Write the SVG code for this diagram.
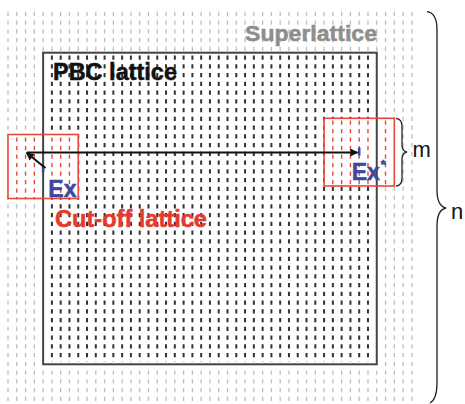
<svg xmlns="http://www.w3.org/2000/svg" width="465" height="404" viewBox="0 0 465 404">
  <style>
    .lt { stroke: #bdbdbd; stroke-width: 1.3; stroke-dasharray: 4.3 4.45; }
    .dk { stroke: #333; stroke-width: 2; stroke-dasharray: 4.3 4.45; }
    .rd { stroke: #e8463c; stroke-width: 1.4; stroke-dasharray: 4.2 4.3; }
    .box { fill: none; stroke: #e8463c; stroke-width: 1.6; }
    .pbc { fill: none; stroke: #444; stroke-width: 2; }
    .lbl { font-family: "Liberation Sans", Arial, sans-serif; font-weight: bold; stroke-width: 0.5; }
    .sym { font-family: "Liberation Sans", Arial, sans-serif; font-size: 22px; fill: #111; }
    .brace { fill: none; stroke: #222; stroke-width: 1.3; }
    .arr { stroke: #111; stroke-width: 2; marker-end: url(#head); }
    .site { stroke: #3b4aa0; stroke-width: 2.6; }
  </style>
  <defs>
    <marker id="head" viewBox="0 0 10 10" refX="9" refY="5" markerUnits="userSpaceOnUse" markerWidth="10" markerHeight="8" orient="auto">
      <path d="M0,0 L10,5 L0,10 z" fill="#111"/>
    </marker>
  </defs>
  <rect width="465" height="404" fill="#fff"/>

  <!-- superlattice columns: spacing 8.78, x0 = 8 -->
  <g id="superlattice">
    <line class="lt" x1="8" y1="11.7" x2="8" y2="401"/>
    <line class="lt" x1="16.78" y1="11.7" x2="16.78" y2="401"/>
    <line class="lt" x1="25.56" y1="11.7" x2="25.56" y2="401"/>
    <line class="lt" x1="34.34" y1="11.7" x2="34.34" y2="401"/>
    <line class="lt" x1="385.54" y1="11.7" x2="385.54" y2="401"/>
    <line class="lt" x1="394.32" y1="11.7" x2="394.32" y2="401"/>
    <line class="lt" x1="403.1" y1="11.7" x2="403.1" y2="401"/>
    <line class="lt" x1="411.88" y1="11.7" x2="411.88" y2="401"/>
    <!-- columns 4..42: parts above and below the PBC cell -->
    <g id="lt-top">
      <line class="lt" x1="43.12" y1="11.7" x2="43.12" y2="52"/>
      <line class="lt" x1="51.9" y1="11.7" x2="51.9" y2="52"/>
      <line class="lt" x1="60.68" y1="11.7" x2="60.68" y2="52"/>
      <line class="lt" x1="69.46" y1="11.7" x2="69.46" y2="52"/>
      <line class="lt" x1="78.24" y1="11.7" x2="78.24" y2="52"/>
      <line class="lt" x1="87.02" y1="11.7" x2="87.02" y2="52"/>
      <line class="lt" x1="95.8" y1="11.7" x2="95.8" y2="52"/>
      <line class="lt" x1="104.58" y1="11.7" x2="104.58" y2="52"/>
      <line class="lt" x1="113.36" y1="11.7" x2="113.36" y2="52"/>
      <line class="lt" x1="122.14" y1="11.7" x2="122.14" y2="52"/>
      <line class="lt" x1="130.92" y1="11.7" x2="130.92" y2="52"/>
      <line class="lt" x1="139.7" y1="11.7" x2="139.7" y2="52"/>
      <line class="lt" x1="148.48" y1="11.7" x2="148.48" y2="52"/>
      <line class="lt" x1="157.26" y1="11.7" x2="157.26" y2="52"/>
      <line class="lt" x1="166.04" y1="11.7" x2="166.04" y2="52"/>
      <line class="lt" x1="174.82" y1="11.7" x2="174.82" y2="52"/>
      <line class="lt" x1="183.6" y1="11.7" x2="183.6" y2="52"/>
      <line class="lt" x1="192.38" y1="11.7" x2="192.38" y2="52"/>
      <line class="lt" x1="201.16" y1="11.7" x2="201.16" y2="52"/>
      <line class="lt" x1="209.94" y1="11.7" x2="209.94" y2="52"/>
      <line class="lt" x1="218.72" y1="11.7" x2="218.72" y2="52"/>
      <line class="lt" x1="227.5" y1="11.7" x2="227.5" y2="52"/>
      <line class="lt" x1="236.28" y1="11.7" x2="236.28" y2="52"/>
      <line class="lt" x1="245.06" y1="11.7" x2="245.06" y2="52"/>
      <line class="lt" x1="253.84" y1="11.7" x2="253.84" y2="52"/>
      <line class="lt" x1="262.62" y1="11.7" x2="262.62" y2="52"/>
      <line class="lt" x1="271.4" y1="11.7" x2="271.4" y2="52"/>
      <line class="lt" x1="280.18" y1="11.7" x2="280.18" y2="52"/>
      <line class="lt" x1="288.96" y1="11.7" x2="288.96" y2="52"/>
      <line class="lt" x1="297.74" y1="11.7" x2="297.74" y2="52"/>
      <line class="lt" x1="306.52" y1="11.7" x2="306.52" y2="52"/>
      <line class="lt" x1="315.3" y1="11.7" x2="315.3" y2="52"/>
      <line class="lt" x1="324.08" y1="11.7" x2="324.08" y2="52"/>
      <line class="lt" x1="332.86" y1="11.7" x2="332.86" y2="52"/>
      <line class="lt" x1="341.64" y1="11.7" x2="341.64" y2="52"/>
      <line class="lt" x1="350.42" y1="11.7" x2="350.42" y2="52"/>
      <line class="lt" x1="359.2" y1="11.7" x2="359.2" y2="52"/>
      <line class="lt" x1="367.98" y1="11.7" x2="367.98" y2="52"/>
      <line class="lt" x1="376.76" y1="11.7" x2="376.76" y2="52"/>
    </g>
    <g id="lt-bottom">
      <line class="lt" x1="43.12" y1="370.45" x2="43.12" y2="401"/>
      <line class="lt" x1="51.9" y1="370.45" x2="51.9" y2="401"/>
      <line class="lt" x1="60.68" y1="370.45" x2="60.68" y2="401"/>
      <line class="lt" x1="69.46" y1="370.45" x2="69.46" y2="401"/>
      <line class="lt" x1="78.24" y1="370.45" x2="78.24" y2="401"/>
      <line class="lt" x1="87.02" y1="370.45" x2="87.02" y2="401"/>
      <line class="lt" x1="95.8" y1="370.45" x2="95.8" y2="401"/>
      <line class="lt" x1="104.58" y1="370.45" x2="104.58" y2="401"/>
      <line class="lt" x1="113.36" y1="370.45" x2="113.36" y2="401"/>
      <line class="lt" x1="122.14" y1="370.45" x2="122.14" y2="401"/>
      <line class="lt" x1="130.92" y1="370.45" x2="130.92" y2="401"/>
      <line class="lt" x1="139.7" y1="370.45" x2="139.7" y2="401"/>
      <line class="lt" x1="148.48" y1="370.45" x2="148.48" y2="401"/>
      <line class="lt" x1="157.26" y1="370.45" x2="157.26" y2="401"/>
      <line class="lt" x1="166.04" y1="370.45" x2="166.04" y2="401"/>
      <line class="lt" x1="174.82" y1="370.45" x2="174.82" y2="401"/>
      <line class="lt" x1="183.6" y1="370.45" x2="183.6" y2="401"/>
      <line class="lt" x1="192.38" y1="370.45" x2="192.38" y2="401"/>
      <line class="lt" x1="201.16" y1="370.45" x2="201.16" y2="401"/>
      <line class="lt" x1="209.94" y1="370.45" x2="209.94" y2="401"/>
      <line class="lt" x1="218.72" y1="370.45" x2="218.72" y2="401"/>
      <line class="lt" x1="227.5" y1="370.45" x2="227.5" y2="401"/>
      <line class="lt" x1="236.28" y1="370.45" x2="236.28" y2="401"/>
      <line class="lt" x1="245.06" y1="370.45" x2="245.06" y2="401"/>
      <line class="lt" x1="253.84" y1="370.45" x2="253.84" y2="401"/>
      <line class="lt" x1="262.62" y1="370.45" x2="262.62" y2="401"/>
      <line class="lt" x1="271.4" y1="370.45" x2="271.4" y2="401"/>
      <line class="lt" x1="280.18" y1="370.45" x2="280.18" y2="401"/>
      <line class="lt" x1="288.96" y1="370.45" x2="288.96" y2="401"/>
      <line class="lt" x1="297.74" y1="370.45" x2="297.74" y2="401"/>
      <line class="lt" x1="306.52" y1="370.45" x2="306.52" y2="401"/>
      <line class="lt" x1="315.3" y1="370.45" x2="315.3" y2="401"/>
      <line class="lt" x1="324.08" y1="370.45" x2="324.08" y2="401"/>
      <line class="lt" x1="332.86" y1="370.45" x2="332.86" y2="401"/>
      <line class="lt" x1="341.64" y1="370.45" x2="341.64" y2="401"/>
      <line class="lt" x1="350.42" y1="370.45" x2="350.42" y2="401"/>
      <line class="lt" x1="359.2" y1="370.45" x2="359.2" y2="401"/>
      <line class="lt" x1="367.98" y1="370.45" x2="367.98" y2="401"/>
      <line class="lt" x1="376.76" y1="370.45" x2="376.76" y2="401"/>
    </g>
  </g>

  <!-- PBC cell columns (5..41) -->
  <g id="pbc-lattice">
    <line class="dk" x1="51.9" y1="55.5" x2="51.9" y2="362"/>
    <line class="dk" x1="60.68" y1="55.5" x2="60.68" y2="362"/>
    <line class="dk" x1="69.46" y1="55.5" x2="69.46" y2="362"/>
    <line class="dk" x1="78.24" y1="55.5" x2="78.24" y2="362"/>
    <line class="dk" x1="87.02" y1="55.5" x2="87.02" y2="362"/>
    <line class="dk" x1="95.8" y1="55.5" x2="95.8" y2="362"/>
    <line class="dk" x1="104.58" y1="55.5" x2="104.58" y2="362"/>
    <line class="dk" x1="113.36" y1="55.5" x2="113.36" y2="362"/>
    <line class="dk" x1="122.14" y1="55.5" x2="122.14" y2="362"/>
    <line class="dk" x1="130.92" y1="55.5" x2="130.92" y2="362"/>
    <line class="dk" x1="139.7" y1="55.5" x2="139.7" y2="362"/>
    <line class="dk" x1="148.48" y1="55.5" x2="148.48" y2="362"/>
    <line class="dk" x1="157.26" y1="55.5" x2="157.26" y2="362"/>
    <line class="dk" x1="166.04" y1="55.5" x2="166.04" y2="362"/>
    <line class="dk" x1="174.82" y1="55.5" x2="174.82" y2="362"/>
    <line class="dk" x1="183.6" y1="55.5" x2="183.6" y2="362"/>
    <line class="dk" x1="192.38" y1="55.5" x2="192.38" y2="362"/>
    <line class="dk" x1="201.16" y1="55.5" x2="201.16" y2="362"/>
    <line class="dk" x1="209.94" y1="55.5" x2="209.94" y2="362"/>
    <line class="dk" x1="218.72" y1="55.5" x2="218.72" y2="362"/>
    <line class="dk" x1="227.5" y1="55.5" x2="227.5" y2="362"/>
    <line class="dk" x1="236.28" y1="55.5" x2="236.28" y2="362"/>
    <line class="dk" x1="245.06" y1="55.5" x2="245.06" y2="362"/>
    <line class="dk" x1="253.84" y1="55.5" x2="253.84" y2="362"/>
    <line class="dk" x1="262.62" y1="55.5" x2="262.62" y2="362"/>
    <line class="dk" x1="271.4" y1="55.5" x2="271.4" y2="362"/>
    <line class="dk" x1="280.18" y1="55.5" x2="280.18" y2="362"/>
    <line class="dk" x1="288.96" y1="55.5" x2="288.96" y2="362"/>
    <line class="dk" x1="297.74" y1="55.5" x2="297.74" y2="362"/>
    <line class="dk" x1="306.52" y1="55.5" x2="306.52" y2="362"/>
    <line class="dk" x1="315.3" y1="55.5" x2="315.3" y2="362"/>
    <line class="dk" x1="324.08" y1="55.5" x2="324.08" y2="362"/>
    <line class="dk" x1="332.86" y1="55.5" x2="332.86" y2="362"/>
    <line class="dk" x1="341.64" y1="55.5" x2="341.64" y2="362"/>
    <line class="dk" x1="350.42" y1="55.5" x2="350.42" y2="362"/>
    <line class="dk" x1="359.2" y1="55.5" x2="359.2" y2="362"/>
    <line class="dk" x1="367.98" y1="55.5" x2="367.98" y2="362"/>
  </g>

  <!-- cut-off lattice around Ex -->
  <g id="cutoff-left">
    <rect x="8" y="134.5" width="70.24" height="64" fill="#fff"/>
    <line class="rd" x1="16.78" y1="137.5" x2="16.78" y2="198"/>
    <line class="rd" x1="25.56" y1="137.5" x2="25.56" y2="198"/>
    <line class="rd" x1="34.34" y1="137.5" x2="34.34" y2="198"/>
    <line class="rd" x1="51.9" y1="137.5" x2="51.9" y2="198"/>
    <line class="rd" x1="60.68" y1="137.5" x2="60.68" y2="198"/>
    <line class="rd" x1="69.46" y1="137.5" x2="69.46" y2="198"/>
  </g>
  <!-- cut-off lattice around Ex* -->
  <g id="cutoff-right">
    <rect x="324.08" y="118.3" width="70.24" height="67.7" fill="#fff"/>
    <line class="rd" x1="332.86" y1="120.5" x2="332.86" y2="185"/>
    <line class="rd" x1="341.64" y1="120.5" x2="341.64" y2="185"/>
    <line class="rd" x1="350.42" y1="120.5" x2="350.42" y2="185"/>
    <line class="rd" x1="359.2" y1="120.5" x2="359.2" y2="185"/>
    <line class="rd" x1="367.98" y1="120.5" x2="367.98" y2="185"/>
    <line class="rd" x1="385.54" y1="120.5" x2="385.54" y2="185"/>
  </g>

  <!-- PBC cell outline -->
  <rect id="pbc-cell" class="pbc" x="43.12" y="52.7" width="333.64" height="311.6"/>

  <!-- cut-off box outlines -->
  <rect class="box" x="8" y="134.5" width="70.24" height="64"/>
  <rect class="box" x="324.08" y="118.3" width="70.24" height="67.7"/>

  <!-- exciton sites -->
  <g id="ex-sites">
    <line class="site" x1="43.12" y1="166.5" x2="43.12" y2="172"/>
    <line class="site" x1="359.2" y1="147.5" x2="359.2" y2="155.5"/>
  </g>

  <!-- connectors -->
  <g id="connectors">
    <line class="arr" x1="27" y1="152.5" x2="357.5" y2="152.5"/>
    <line class="arr" x1="45.5" y1="168" x2="26.5" y2="152.8"/>
  </g>

  <!-- labels -->
  <g id="label-superlattice">
    <text class="lbl" x="245" y="41" font-size="22" fill="#8e8e8e" stroke="#8e8e8e" textLength="132" lengthAdjust="spacingAndGlyphs">Superlattice</text>
  </g>
  <g id="label-pbc">
    <text class="lbl" x="53" y="80" font-size="23" fill="#111" stroke="#111" textLength="124" lengthAdjust="spacingAndGlyphs">PBC lattice</text>
  </g>
  <g id="label-cutoff">
    <text class="lbl" x="55" y="226.7" font-size="23" fill="#e53b2f" stroke="#e53b2f" textLength="152" lengthAdjust="spacingAndGlyphs">Cut-off lattice</text>
  </g>
  <g id="label-ex">
    <text class="lbl" x="48.3" y="196.7" font-size="23" fill="#3b4aa0" stroke="#3b4aa0">Ex</text>
  </g>
  <g id="label-exstar">
    <text class="lbl" x="351.7" y="180" font-size="23" fill="#3b4aa0" stroke="#3b4aa0">Ex<tspan font-size="13" dx="1" dy="-11">*</tspan></text>
  </g>

  <!-- braces -->
  <g id="brace-m">
    <path class="brace" d="M396,118.3 Q402,119 402,126 L402,145 Q402,151 407,152 Q402,153 402,159 L402,178.5 Q402,185.5 396,186"/>
    <text class="sym" x="412.5" y="157">m</text>
  </g>
  <g id="brace-n">
    <path class="brace" d="M427,11.7 Q437,13 437,30 L437,190 Q437,206 446,208 Q437,210 437,226 L437,383 Q437,399 430,403"/>
    <text class="sym" x="451" y="218.5">n</text>
  </g>
</svg>
